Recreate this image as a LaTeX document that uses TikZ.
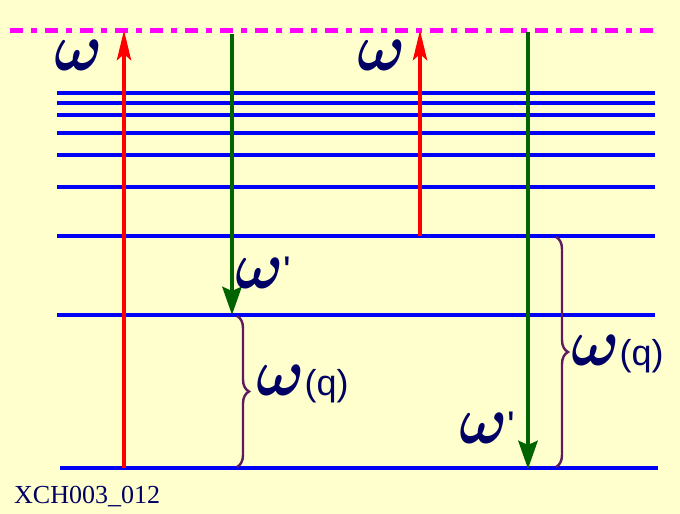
\documentclass[tikz,border=0pt]{standalone}
\usepackage{graphicx}
\usepackage{amsmath}
\usepackage{fontspec}
\setmainfont{Liberation Serif}
\setsansfont{Liberation Sans}
\usetikzlibrary{arrows.meta,decorations.pathreplacing}
\definecolor{paper}{RGB}{255,255,206}
\definecolor{levelblue}{RGB}{0,0,245}
\definecolor{virtmag}{RGB}{255,0,255}
\definecolor{stokesgreen}{RGB}{0,100,0}
\definecolor{labelnavy}{RGB}{0,0,100}
\definecolor{bracepurple}{RGB}{95,25,95}
\newcommand{\freq}{\scalebox{6.4}[6.8]{$\boldsymbol{\omega}$}}
\newcommand{\freqq}{\freq{\sffamily\fontsize{36}{36}\selectfont(q)}}
\newcommand{\freqp}{\freq{\sffamily\fontsize{40}{40}\selectfont\raisebox{4pt}{\textquotesingle}}}

\begin{document}
\begin{tikzpicture}[x=1pt,y=-1pt]
		\tikzset{level/.style={levelblue, line width=3.2pt},
			pump/.style={red, line width=4.8pt, -{Stealth[length=30pt,width=14pt,inset=6pt]}},
			scat/.style={stokesgreen, line width=4.8pt, -{Stealth[length=28pt,width=19pt,inset=4pt]}},
			phonon/.style={bracepurple, line width=2.4pt, decorate, decoration={brace,amplitude=12pt}},
			lbl/.style={labelnavy, inner sep=0pt}}
		\fill[paper] (0,0) rectangle (680,514);
		\useasboundingbox (0,0) rectangle (680,514);
		% energy levels
		\foreach \y in {93,103,115,133,155,187,236,315}
			\draw[level] (57,\y) -- (655,\y);
		\draw[level] (60,468) -- (658,468);
		% virtual level
		\draw[virtmag, line width=5pt, dash pattern=on 13pt off 8pt on 6pt off 8pt] (10,30) -- (655,30);
		% end points
		\coordinate (r1s) at (124,468); \coordinate (r1e) at (124,30);
		\coordinate (g1s) at (232,34);  \coordinate (g1e) at (232,315);
		\coordinate (r2s) at (420,236); \coordinate (r2e) at (420,30);
		\coordinate (g2s) at (528,32);  \coordinate (g2e) at (528,469);
		\draw[pump] (r1s) -- (r1e);
		\draw[pump] (r2s) -- (r2e);
		\draw[scat] (g1s) -- (g1e);
		\draw[scat] (g2s) -- (g2e);
		% braces
		\coordinate (b1t) at (237,316); \coordinate (b1b) at (237,467);
		\coordinate (b2t) at (556,237); \coordinate (b2b) at (556,467);
		\draw[phonon] (b1t) -- (b1b);
		\draw[phonon] (b2t) -- (b2b);
		% labels
		\node[lbl] (w1) at (79,55) {\freq};
		\node[lbl] (w2) at (382,55) {\freq};
		\node[lbl] (wp1) at (263,273) {\freqp};
		\node[lbl] (wp2) at (487,428) {\freqp};
		\node[lbl, anchor=west] (wq1) at (256,384) {\freqq};
		\node[lbl, anchor=west] (wq2) at (571,354) {\freqq};
		\node[lbl, anchor=west, font=\fontsize{26}{26}\selectfont] (tag) at (14,497) {XCH003\_012};
	\end{tikzpicture}
\end{document}
